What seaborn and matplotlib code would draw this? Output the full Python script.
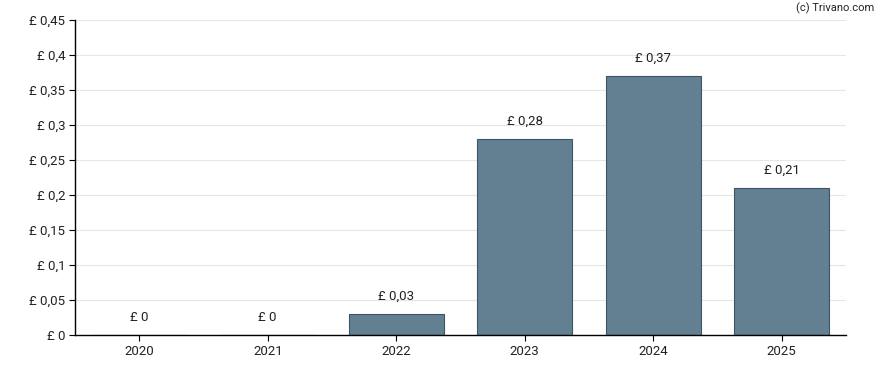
import matplotlib
matplotlib.use("Agg")
import matplotlib.pyplot as plt
import seaborn as sns
import pandas as pd

years = ["2020", "2021", "2022", "2023", "2024", "2025"]
dividends = [0.0, 0.0, 0.03, 0.28, 0.37, 0.21]
y_ticks = [0, 0.05, 0.1, 0.15, 0.2, 0.25, 0.3, 0.35, 0.4, 0.45]


def gbp(v):
    s = f"{v:.2f}".rstrip("0").rstrip(".")
    return "£ " + s.replace(".", ",")


sns.set_style("white")
plt.rcParams["font.family"] = ["Roboto", "DejaVu Sans"]

df = pd.DataFrame({"year": years, "value": dividends})

fig = plt.figure(figsize=(8.88, 3.70), dpi=100)
ax = fig.add_axes([75 / 888, 35 / 370, 771 / 888, 315 / 370])

sns.barplot(data=df, x="year", y="value", color="#637f92", saturation=1,
            width=0.74, edgecolor="#3e5567", linewidth=0.8, ax=ax, zorder=2)

ax.set_ylim(0, 0.45)
ax.set_yticks(y_ticks)
ax.set_yticklabels([gbp(v) for v in y_ticks], fontsize=9.5, color="#222222")
ax.set_xticks(range(len(years)))
ax.set_xticklabels(years, fontsize=9.5, color="#222222")
ax.set_xlabel("")
ax.set_ylabel("")
ax.grid(axis="y", color="#e6e6e6", linewidth=0.8, zorder=0)
ax.set_axisbelow(True)
ax.set_xlim(-0.5, len(years) - 0.5)

for side in ["top", "right"]:
    ax.spines[side].set_visible(False)
for side in ["left", "bottom"]:
    ax.spines[side].set_color("black")
    ax.spines[side].set_linewidth(1)
ax.tick_params(axis="both", which="both", length=4, width=0.8, color="black",
               left=True, bottom=True, pad=3)

for i, v in enumerate(dividends):
    ax.annotate(gbp(v), (i, v), xytext=(0, 12.5), textcoords="offset points",
                ha="center", va="center", fontsize=9.5, color="#222222")

fig.text(874 / 888, 1 - 8 / 370, "(c) Trivano.com", ha="right", va="center",
         fontsize=8, color="#222222")

fig.savefig("out.png", dpi=100)
